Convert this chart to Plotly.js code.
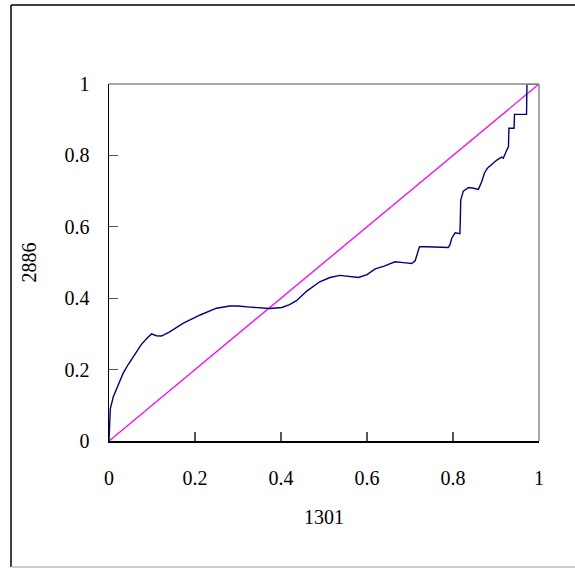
<!DOCTYPE html>
<html>
<head>
<meta charset="utf-8">
<script src="https://cdn.plot.ly/plotly-3.0.1.min.js"></script>
<style>
  html, body { margin: 0; padding: 0; background: #fff; }
  #chart { width: 575px; height: 569px; }
</style>
</head>
<body>
<div id="chart"></div>
<script>
const xTitle = "1301";
const yTitle = "2886";
const tickVals = [0, 0.2, 0.4, 0.6, 0.8, 1];
const tickText = ["0", "0.2", "0.4", "0.6", "0.8", "1"];

const curveX = [0, 0.001, 0.003, 0.01, 0.02, 0.033, 0.045, 0.057, 0.075, 0.09, 0.099, 0.11, 0.122, 0.14, 0.173, 0.212, 0.25, 0.281, 0.30, 0.328, 0.374, 0.402, 0.42, 0.436, 0.46, 0.49, 0.514, 0.537, 0.56, 0.58, 0.60, 0.619, 0.64, 0.665, 0.69, 0.704, 0.712, 0.716, 0.722, 0.739, 0.76, 0.781, 0.789, 0.793, 0.797, 0.805, 0.816, 0.817, 0.818, 0.824, 0.836, 0.848, 0.859, 0.867, 0.873, 0.88, 0.89, 0.902, 0.913, 0.917, 0.925, 0.929, 0.93, 0.942, 0.943, 0.971, 0.972, 1.0];
const curveY = [0, 0.05, 0.09, 0.124, 0.155, 0.19, 0.215, 0.236, 0.27, 0.29, 0.30, 0.295, 0.294, 0.305, 0.33, 0.353, 0.372, 0.378, 0.378, 0.375, 0.371, 0.374, 0.382, 0.393, 0.42, 0.446, 0.458, 0.464, 0.46, 0.458, 0.466, 0.482, 0.49, 0.502, 0.499, 0.497, 0.505, 0.52, 0.544, 0.544, 0.543, 0.542, 0.542, 0.55, 0.568, 0.583, 0.581, 0.62, 0.675, 0.70, 0.71, 0.708, 0.705, 0.727, 0.75, 0.764, 0.775, 0.787, 0.795, 0.792, 0.815, 0.824, 0.876, 0.876, 0.915, 0.915, 1.0, 1.0];

const diagX = [0, 1];
const diagY = [0, 1];

const font = "Liberation Serif, DejaVu Serif, serif";

const traces = [
  { x: diagX, y: diagY, mode: "lines", line: { color: "#ff00ff", width: 1.3 }, hoverinfo: "skip" },
  { x: curveX, y: curveY, mode: "lines", line: { color: "#000080", width: 1.4 }, hoverinfo: "skip" }
];

const layout = {
  width: 575, height: 569,
  margin: { l: 109, r: 36, t: 84, b: 128 },
  paper_bgcolor: "#fff", plot_bgcolor: "#fff",
  showlegend: false,
  font: { family: font, color: "#000", size: 19 },
  xaxis: {
    range: [0, 1], tickvals: tickVals, ticktext: tickText,
    ticks: "inside", ticklen: 9, tickcolor: "#555", tickwidth: 1.3,
    showgrid: false, zeroline: false,
    showline: true, linecolor: "#000", linewidth: 1.5,
    ticklabelstandoff: 18,
    tickfont: { family: font, size: 20, color: "#000" },
    title: { text: xTitle, font: { family: font, size: 20, color: "#000" }, standoff: 22 },
    automargin: false, fixedrange: true
  },
  yaxis: {
    range: [0, 1], tickvals: tickVals, ticktext: tickText,
    ticks: "inside", ticklen: 9, tickcolor: "#555", tickwidth: 1.3,
    showgrid: false, zeroline: false,
    showline: true, linecolor: "#000", linewidth: 1.5,
    ticklabelstandoff: 14,
    tickfont: { family: font, size: 20, color: "#000" },
    title: { text: yTitle, font: { family: font, size: 20, color: "#000" }, standoff: 22 },
    automargin: false, fixedrange: true
  },
  shapes: [
    { type: "line", xref: "paper", yref: "paper", x0: 0, x1: 1, y0: 1, y1: 1, line: { color: "#888", width: 1.5 } },
    { type: "line", xref: "paper", yref: "paper", x0: 1, x1: 1, y0: 0, y1: 1, line: { color: "#888", width: 1.5 } },
    { type: "line", xref: "paper", yref: "paper", x0: -0.2279, x1: -0.2279, y0: -0.3529, y1: 1.2213, line: { color: "#000", width: 1.5 } },
    { type: "line", xref: "paper", yref: "paper", x0: -0.2279, x1: 1.2, y0: 1.2213, y1: 1.2213, line: { color: "#000", width: 1.5 } },
    { type: "line", xref: "paper", yref: "paper", x0: -0.2279, x1: 1.2, y0: -0.3529, y1: -0.3529, line: { color: "#bbb", width: 1.5 } }
  ]
};

Plotly.newPlot("chart", traces, layout, { staticPlot: true, displayModeBar: false });
</script>
</body>
</html>
